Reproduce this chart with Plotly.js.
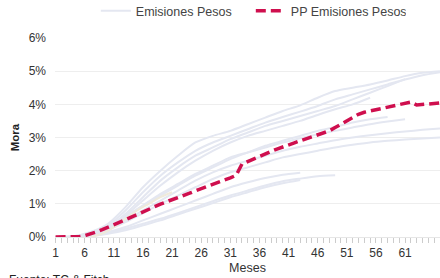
<!DOCTYPE html>
<html>
<head>
<meta charset="utf-8">
<script src="https://cdn.plot.ly/plotly-3.0.1.min.js"></script>
<style>html,body{margin:0;padding:0;background:#fff;}#chart{width:440px;height:278px;}</style>
</head>
<body>
<div id="chart"></div>
<script>
// Sampled months for the individual issuance curves
const sampleMonths = [1,4,7,10,13,16,19,22,25,28,31,34,37,40,43,46,49,52,55,58,61,64,67];

// Individual "Emisiones Pesos" curves (Mora, %)
const emisionU1 = [0,0.02,0.15,0.4,0.9,1.5,2.0,2.45,2.85,3.05,3.2,3.4,3.6,3.8,3.97,4.2,4.4,4.5,4.6,4.72,4.85,4.95,5.0];
const emisionU2 = [0,0.02,0.12,0.35,0.8,1.35,1.85,2.25,2.6,2.85,3.05,3.25,3.45,3.62,3.78,3.95,4.15,4.3,4.45,4.6,4.75,4.88,4.97];
const emisionU3 = [0,0.01,0.1,0.3,0.7,1.2,1.7,2.1,2.45,2.7,2.95,3.15,3.35,3.5,3.65,3.8,3.95,4.15,4.35,4.55,4.76];
const emisionU4 = [0,0.01,0.1,0.3,0.65,1.1,1.55,1.95,2.3,2.6,2.85,3.05,3.2,3.35,3.5,3.68,3.85,4.0,4.2];
const emisionM1 = [0,0.01,0.1,0.3,0.6,0.95,1.3,1.6,1.9,2.15,2.4,2.55,2.7,2.85,2.98,3.1,3.2,3.3,3.4,3.48,3.55];
const emisionM2 = [0,0.01,0.08,0.25,0.5,0.8,1.1,1.4,1.7,1.95,2.15,2.3,2.45,2.6,2.72,2.82,2.92,3.0,3.07,3.13,3.18,3.23,3.27];
const emisionM3 = [0,0.01,0.08,0.22,0.45,0.72,1.0,1.25,1.5,1.75,1.95,2.1,2.25,2.4,2.5,2.6,2.7,2.78,2.85,2.9,2.94,2.97,3.0];
const emisionM4 = [0,0.01,0.1,0.3,0.62,0.95,1.25,1.55,1.85,2.1,2.35,2.55,2.75,2.9,3.05,3.2,3.32,3.45,3.55,3.62];
const emisionL1 = [0,0.01,0.05,0.15,0.3,0.5,0.7,0.9,1.1,1.3,1.5,1.65,1.78,1.88,1.94];
const emisionL2 = [0,0.01,0.05,0.13,0.25,0.4,0.55,0.72,0.9,1.08,1.25,1.4,1.55,1.68,1.76,1.83,1.86];
const emisionL3 = [0,0.0,0.03,0.1,0.2,0.35,0.5,0.68,0.85,1.02,1.2,1.35,1.5,1.62,1.72];
const emisionB1Months = [7,9,11,13,15,17,19,21];
const emisionB1 = [0,0.1,0.3,0.55,0.8,1.0,1.2,1.35];

// Weighted average curve "PP Emisiones Pesos" (Mora, %), months 1..67
const ppMonths = Array.from({length: 67}, (_, i) => i + 1);
const ppValues = [0,0,0,0,0.01,0.04,0.09,0.15,0.22,0.29,0.36,0.44,0.52,0.6,0.68,0.76,0.85,0.92,0.99,1.06,
  1.12,1.19,1.26,1.32,1.39,1.46,1.53,1.6,1.66,1.72,1.78,1.86,2.2,2.28,2.35,2.42,2.5,2.58,2.65,2.72,
  2.78,2.84,2.9,2.96,3.02,3.08,3.14,3.2,3.3,3.4,3.48,3.58,3.7,3.76,3.8,3.84,3.87,3.92,3.96,4.0,
  4.05,4.07,3.98,4.0,4.02,4.03,4.04];

const xTicks = [1,6,11,16,21,26,31,36,41,46,51,56,61,66];
const yTicks = [0,1,2,3,4,5,6];

const grayColor = '#e4e7f1';
const grayCurves = [emisionU1, emisionU2, emisionU3, emisionU4, emisionM1, emisionM2, emisionM3, emisionM4, emisionL1, emisionL2, emisionL3];

const traces = grayCurves.map((vals, i) => ({
  x: sampleMonths.slice(0, vals.length),
  y: vals,
  type: 'scatter', mode: 'lines',
  line: {color: grayColor, width: 2, shape: 'spline', smoothing: 0.6},
  name: 'Emisiones Pesos',
  legendgroup: 'em',
  showlegend: i === 0,
  hoverinfo: 'skip'
}));
traces.push({
  x: emisionB1Months, y: emisionB1, type: 'scatter', mode: 'lines',
  line: {color: '#efeadb', width: 2, shape: 'spline'},
  showlegend: false, hoverinfo: 'skip'
});
traces.push({
  x: ppMonths, y: ppValues, type: 'scatter', mode: 'lines',
  name: 'PP Emisiones Pesos',
  line: {color: '#cf0f4e', width: 3.5, dash: '10px,5px'}
});

const layout = {
  width: 440, height: 278,
  margin: {l: 55, r: 0, t: 38, b: 41, autoexpand: false},
  paper_bgcolor: '#fff', plot_bgcolor: '#fff',
  font: {family: 'Liberation Sans, Arial, sans-serif', size: 12, color: '#333'},
  showlegend: true,
  legend: {orientation: 'h', x: 0.106, xanchor: 'left', y: 1.135, yanchor: 'middle',
           font: {size: 12.5, color: '#444'}, itemwidth: 30, entrywidth: 110, entrywidthmode: 'pixels',
           traceorder: 'normal', tracegroupgap: 0},
  xaxis: {
    range: [0.9, 67], tickvals: xTicks, ticktext: xTicks.map(String),
    showgrid: false, zeroline: false, automargin: false,
    showline: true, linecolor: '#e6e6e6', linewidth: 1,
    ticks: 'outside', ticklen: 5, tickcolor: '#cccccc',
    minor: {dtick: 1, tick0: 1, ticks: 'outside', ticklen: 5, tickcolor: '#cccccc', showgrid: false},
    tickfont: {size: 12, color: '#333'},
    title: {text: 'Meses', font: {size: 12.5, color: '#333'}, standoff: 3}
  },
  yaxis: {
    range: [0, 6], tickvals: yTicks, ticktext: yTicks.map(v => v + '%'),
    showgrid: true, gridcolor: '#eeeeee', gridwidth: 1, zeroline: false, automargin: false,
    ticklabelstandoff: 8,
    tickfont: {size: 12, color: '#333'},
    title: {text: '<b>Mora</b>', font: {size: 11.5, color: '#222'}, standoff: 6}
  },
  annotations: [{
    text: 'Fuente: TC & Fitch', xref: 'paper', yref: 'paper',
    x: -0.125, xanchor: 'left', y: -0.17, yanchor: 'top', showarrow: false,
    font: {size: 12, color: '#222'}
  }]
};

Plotly.newPlot('chart', traces, layout, {displayModeBar: false, staticPlot: true});
</script>
</body>
</html>
